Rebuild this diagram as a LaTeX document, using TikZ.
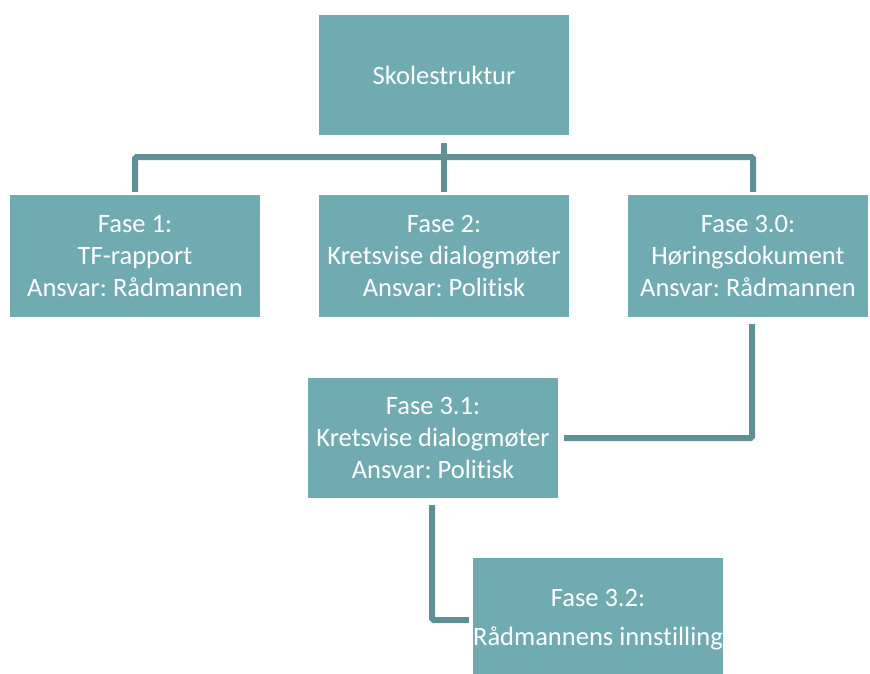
\documentclass[tikz,border=0pt]{standalone}
\usepackage{fontspec}
\setmainfont{Carlito}[Ligatures=NoCommon]
\frenchspacing
\usetikzlibrary{positioning}
\definecolor{boxteal}{HTML}{71ABB2}
\definecolor{lineteal}{HTML}{5E9095}

\begin{document}
\begin{tikzpicture}[x=1pt, y=-1pt,
	font=\fontsize{26.5}{32}\selectfont,
	fase/.style={fill=boxteal, text=white, align=center, minimum width=250pt, minimum height=122pt, inner sep=0pt},
	link/.style={draw=lineteal, line width=6pt, rounded corners=1.5pt}]
		\useasboundingbox (0,0) rectangle (870,673);
		\node[fase, minimum height=120pt] (topp) at (444,75) {Skolestruktur};
		\node[fase] (fase1) at (135,256) {Fase 1:\\TF-rapport\\Ansvar: Rådmannen};
		\node[fase] (fase2) at (444,256) {Fase 2:\\Kretsvise dialogmøter\\Ansvar: Politisk};
		\node[fase, minimum width=240pt] (fase30) at (748,256) {Fase 3.0:\\Høringsdokument\\Ansvar: Rådmannen};
		\node[fase, minimum height=120pt] (fase31) at (433,438) {Fase 3.1:\\Kretsvise dialogmøter\\Ansvar: Politisk};
		\node[fase, minimum height=124pt, font=\fontsize{26.5}{39}\selectfont] (fase32) at (598,620) {Fase 3.2:\\Rådmannens innstilling};
		% grener
		\coordinate (bar) at ([yshift=-22pt]topp.south);
		\draw[link] ([yshift=-8pt]topp.south) -- ([yshift=3pt]fase2.north);
		\draw[link] ([yshift=3pt]fase1.north) |- (bar) -| ([xshift=5pt, yshift=3pt]fase30.north);
		\draw[link] ([xshift=4pt, yshift=-7pt]fase30.south) |- ([xshift=6pt]fase31.east);
		\draw[link] ([xshift=-1pt, yshift=-7pt]fase31.south) |- ([xshift=-4pt]fase32.west);
\end{tikzpicture}
\end{document}
